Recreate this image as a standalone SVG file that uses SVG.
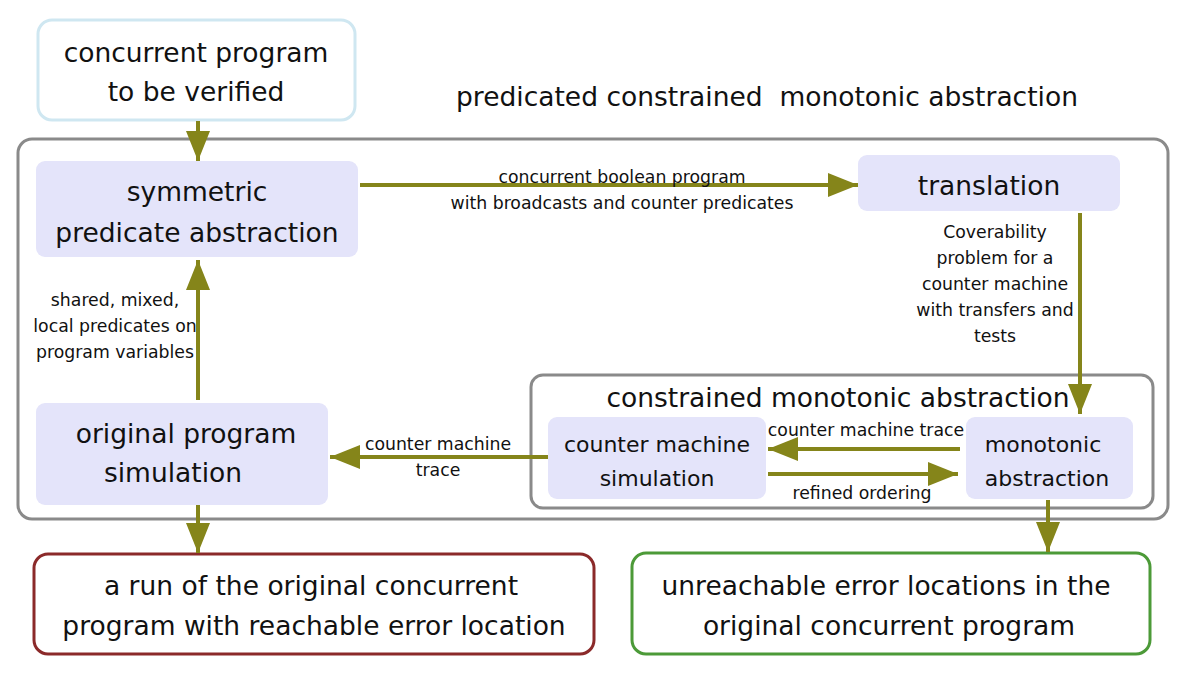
<svg xmlns="http://www.w3.org/2000/svg" width="1187" height="681" viewBox="0 0 1187 681">
<defs>
<marker id="ah2" viewBox="0 0 30 24" refX="30" refY="12" markerWidth="30" markerHeight="24" markerUnits="userSpaceOnUse" orient="auto">
<path d="M0,0 L30,12 L0,24 z" fill="#85851a"/>
</marker>
</defs>
<style>
.node{fill:#e4e4fa;stroke:none}
.big{font-family:"DejaVu Sans",sans-serif;font-size:26.5px;fill:#111;text-anchor:middle}
.mid{font-family:"DejaVu Sans",sans-serif;font-size:22px;fill:#111;text-anchor:middle}
.sm{font-family:"DejaVu Sans",sans-serif;font-size:17.3px;fill:#111;text-anchor:middle}
.conn{stroke:#85851a;stroke-width:4;fill:none;marker-end:url(#ah2)}
.cont{fill:none;stroke:#8a8a8a;stroke-width:3}
</style>
<rect width="1187" height="681" fill="#fff"/>
<g id="containers">
<rect class="cont" x="18" y="139" width="1150" height="380" rx="14"/>
<rect class="cont" x="531" y="375" width="622" height="133" rx="12"/>
<text class="big" x="767" y="106" xml:space="preserve">predicated constrained  monotonic abstraction</text>
<text class="big" x="838" y="407">constrained monotonic abstraction</text>
</g>
<g id="n-input">
<rect x="38" y="20" width="317" height="100" rx="14" fill="#fff" stroke="#cfe7f1" stroke-width="3"/>
<text class="big" x="196" y="62">concurrent program</text>
<text class="big" x="196" y="101">to be verified</text>
</g>
<g id="n-sym">
<rect class="node" x="36" y="161" width="322" height="96" rx="9"/>
<text class="big" x="197" y="201">symmetric</text>
<text class="big" x="197" y="242">predicate abstraction</text>
</g>
<g id="n-trans">
<rect class="node" x="858" y="155" width="262" height="56" rx="9"/>
<text class="big" x="989" y="195">translation</text>
</g>
<g id="n-orig">
<rect class="node" x="36" y="403" width="292" height="102" rx="9"/>
<text class="big" x="186" y="443">original program</text>
<text class="big" x="173" y="482">simulation</text>
</g>
<g id="n-cms">
<rect class="node" x="548" y="417" width="218" height="82" rx="9"/>
<text class="mid" x="657" y="452">counter machine</text>
<text class="mid" x="657" y="486">simulation</text>
</g>
<g id="n-mono">
<rect class="node" x="966" y="417" width="167" height="82" rx="9"/>
<text class="mid" x="1043" y="452">monotonic</text>
<text class="mid" x="1047" y="486">abstraction</text>
</g>
<g id="n-err">
<rect x="34" y="554" width="560" height="100" rx="14" fill="#fff" stroke="#8b2a2a" stroke-width="3"/>
<text class="big" x="311" y="595">a run of the original concurrent</text>
<text class="big" x="314" y="635">program with reachable error location</text>
</g>
<g id="n-safe">
<rect x="632" y="553" width="518" height="101" rx="14" fill="#fff" stroke="#4c9a38" stroke-width="3"/>
<text class="big" x="886" y="595">unreachable error locations in the</text>
<text class="big" x="889" y="635">original concurrent program</text>
</g>
<g id="connectors">
<line class="conn" x1="198" y1="121" x2="198" y2="161"/>
<line class="conn" x1="360" y1="185" x2="858" y2="185"/>
<line class="conn" x1="1080" y1="213" x2="1080" y2="414"/>
<line class="conn" x1="198" y1="400" x2="198" y2="260"/>
<line class="conn" x1="548" y1="457" x2="330" y2="457"/>
<line class="conn" x1="960" y1="449" x2="768" y2="449"/>
<line class="conn" x1="768" y1="474" x2="958" y2="474"/>
<line class="conn" x1="198" y1="505" x2="198" y2="553"/>
<line class="conn" x1="1048" y1="500" x2="1048" y2="552"/>
<text class="sm" x="622" y="183">concurrent boolean program</text>
<text class="sm" x="622" y="209">with broadcasts and counter predicates</text>
<text class="sm" x="995" y="238">Coverability</text>
<text class="sm" x="995" y="264">problem for a</text>
<text class="sm" x="995" y="290">counter machine</text>
<text class="sm" x="995" y="316">with transfers and</text>
<text class="sm" x="995" y="342">tests</text>
<text class="sm" x="115" y="306">shared, mixed,</text>
<text class="sm" x="115" y="332">local predicates on</text>
<text class="sm" x="115" y="358">program variables</text>
<text class="sm" x="438" y="450">counter machine</text>
<text class="sm" x="438" y="476">trace</text>
<text class="sm" x="866" y="436">counter machine trace</text>
<text class="sm" x="862" y="499">refined ordering</text>
</g>
</svg>
